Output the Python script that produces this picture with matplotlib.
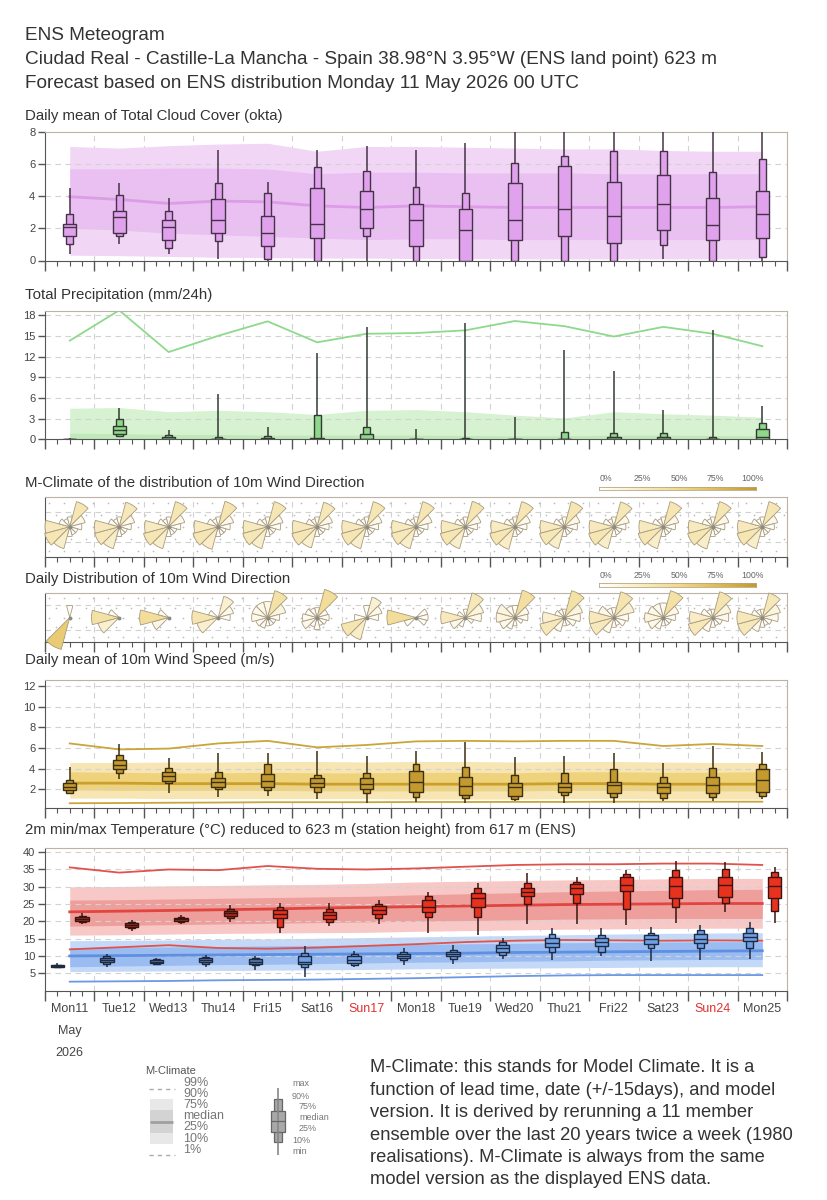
import numpy as np
import matplotlib
matplotlib.use("Agg")
import matplotlib.pyplot as plt
import matplotlib.transforms as mtransforms
from matplotlib.patches import Wedge
from matplotlib.colors import LinearSegmentedColormap

plt.rcParams['font.family'] = ['Liberation Sans', 'DejaVu Sans']

# ---- data ----
day_labels = ['Mon11', 'Tue12', 'Wed13', 'Thu14', 'Fri15', 'Sat16', 'Sun17', 'Mon18',
              'Tue19', 'Wed20', 'Thu21', 'Fri22', 'Sat23', 'Sun24', 'Mon25']

# cloud cover (okta)
cloud_min = [0.4, 1.0, 0.4, 0.1, 0.0, 0.0, 0.0, 0.0, 0.0, 0.0, 0.0, 0.0, 0.1, 0.0, 0.0]
cloud_p10 = [1.0, 1.5, 0.8, 1.2, 0.1, 0.0, 1.5, 0.0, 0.0, 0.0, 0.0, 0.0, 0.95, 0.0, 0.2]
cloud_p25 = [1.5, 1.7, 1.3, 1.7, 0.9, 1.4, 2.0, 0.9, 0.0, 1.3, 1.5, 1.1, 1.9, 1.3, 1.4]
cloud_med = [2.1, 2.7, 2.1, 2.5, 1.7, 2.3, 3.2, 2.5, 1.9, 2.5, 3.2, 2.8, 3.5, 2.2, 2.9]
cloud_p75 = [2.3, 3.1, 2.5, 3.8, 2.8, 4.5, 4.3, 3.5, 3.2, 4.8, 5.9, 4.9, 5.3, 3.9, 4.3]
cloud_p90 = [2.9, 4.1, 3.1, 4.8, 4.2, 5.8, 5.6, 4.6, 4.2, 6.1, 6.5, 6.8, 6.8, 5.5, 6.3]
cloud_max = [4.5, 4.8, 3.9, 6.9, 4.9, 6.9, 7.1, 6.9, 7.3, 8.0, 8.0, 8.0, 8.0, 8.0, 8.0]
cloud_c10 = [0.33, 0.3, 0.25, 0.2, 0.18, 0.15, 0.15, 0.12, 0.12, 0.1, 0.1, 0.1, 0.1, 0.1, 0.1]
cloud_c25 = [2.0, 1.9, 1.7, 1.6, 1.5, 1.4, 1.3, 1.35, 1.35, 1.3, 1.3, 1.3, 1.3, 1.3, 1.3]
cloud_c50 = [3.97, 3.8, 3.55, 3.7, 3.65, 3.4, 3.3, 3.4, 3.35, 3.3, 3.3, 3.3, 3.3, 3.3, 3.35]
cloud_c75 = [5.7, 5.7, 5.75, 5.75, 5.7, 5.4, 5.5, 5.5, 5.45, 5.45, 5.45, 5.4, 5.4, 5.4, 5.4]
cloud_c90 = [7.1, 7.0, 7.15, 7.25, 7.3, 6.8, 7.1, 7.1, 7.05, 7.0, 6.95, 6.95, 6.85, 6.8, 6.8]

# precipitation (mm/24h)
precip_min = [0, 0.4, 0, 0, 0, 0, 0, 0, 0, 0, 0, 0, 0, 0, 0]
precip_p10 = [0, 0.45, 0, 0, 0, 0, 0, 0, 0, 0, 0, 0, 0, 0, 0]
precip_p25 = [0, 0.75, 0, 0, 0, 0, 0, 0, 0, 0, 0, 0, 0, 0, 0.1]
precip_med = [0, 1.3, 0.1, 0, 0.05, 0.05, 0.1, 0, 0, 0, 0, 0.05, 0.05, 0, 0.3]
precip_p75 = [0, 1.9, 0.3, 0.1, 0.2, 0.25, 0.7, 0, 0.05, 0, 0.1, 0.35, 0.3, 0.1, 1.55]
precip_p90 = [0.05, 3.0, 0.65, 0.3, 0.55, 3.5, 1.8, 0, 0.2, 0, 1.05, 0.9, 0.9, 0.3, 2.4]
precip_max = [0.2, 4.5, 1.3, 6.6, 1.8, 12.5, 16.3, 1.55, 16.8, 3.3, 12.9, 9.9, 4.3, 15.9, 4.9]
precip_c75 = [0.9, 0.8, 0.7, 0.7, 0.6, 0.6, 0.6, 0.6, 0.55, 0.5, 0.5, 0.6, 0.6, 0.55, 0.5]
precip_c90 = [4.5, 4.6, 4.0, 4.2, 4.0, 3.6, 4.2, 4.3, 4.0, 3.5, 3.1, 4.0, 3.7, 3.5, 3.2]
precip_c99 = [14.3, 18.7, 12.65, 15.0, 17.1, 14.06, 15.3, 15.4, 15.8, 17.15, 16.4, 14.9, 16.3, 15.3, 13.5]

# wind direction frequencies, sectors N, 30, 60, ... 330 deg
mclim_rose = [
    [0.03, 0.34, 0.10, 0.05, 0.02, 0.02, 0.03, 0.24, 0.34, 0.30, 0.04, 0.02],
    [0.03, 0.32, 0.10, 0.05, 0.02, 0.02, 0.03, 0.24, 0.32, 0.30, 0.04, 0.02],
    [0.03, 0.34, 0.11, 0.05, 0.02, 0.02, 0.03, 0.24, 0.34, 0.28, 0.04, 0.02],
    [0.03, 0.35, 0.10, 0.05, 0.02, 0.02, 0.03, 0.26, 0.34, 0.28, 0.04, 0.02],
    [0.03, 0.34, 0.10, 0.06, 0.02, 0.02, 0.03, 0.24, 0.33, 0.29, 0.04, 0.02],
    [0.03, 0.32, 0.10, 0.05, 0.02, 0.02, 0.03, 0.22, 0.34, 0.30, 0.04, 0.02],
    [0.03, 0.34, 0.10, 0.05, 0.02, 0.02, 0.03, 0.24, 0.34, 0.30, 0.04, 0.02],
    [0.03, 0.34, 0.11, 0.05, 0.02, 0.02, 0.03, 0.24, 0.32, 0.29, 0.04, 0.02],
    [0.03, 0.35, 0.10, 0.05, 0.02, 0.02, 0.03, 0.24, 0.34, 0.29, 0.04, 0.02],
    [0.03, 0.34, 0.10, 0.05, 0.02, 0.02, 0.03, 0.26, 0.34, 0.28, 0.04, 0.02],
    [0.03, 0.34, 0.10, 0.06, 0.02, 0.02, 0.03, 0.24, 0.33, 0.29, 0.04, 0.02],
    [0.03, 0.33, 0.10, 0.05, 0.02, 0.02, 0.03, 0.24, 0.34, 0.30, 0.04, 0.02],
    [0.03, 0.34, 0.10, 0.05, 0.02, 0.02, 0.03, 0.24, 0.34, 0.29, 0.04, 0.02],
    [0.03, 0.34, 0.11, 0.05, 0.02, 0.02, 0.03, 0.25, 0.34, 0.29, 0.04, 0.02],
    [0.03, 0.34, 0.10, 0.05, 0.02, 0.02, 0.03, 0.24, 0.34, 0.30, 0.04, 0.02],
]
daily_rose = [
    [0.05, 0.00, 0.00, 0.00, 0.00, 0.00, 0.00, 0.62, 0.00, 0.00, 0.00, 0.00],
    [0.00, 0.00, 0.00, 0.00, 0.00, 0.00, 0.00, 0.00, 0.22, 0.40, 0.04, 0.00],
    [0.00, 0.00, 0.00, 0.00, 0.00, 0.00, 0.00, 0.00, 0.12, 0.45, 0.04, 0.00],
    [0.00, 0.22, 0.10, 0.05, 0.00, 0.00, 0.00, 0.00, 0.22, 0.35, 0.03, 0.00],
    [0.10, 0.40, 0.15, 0.05, 0.02, 0.02, 0.02, 0.04, 0.05, 0.10, 0.10, 0.10],
    [0.03, 0.45, 0.04, 0.05, 0.03, 0.02, 0.05, 0.03, 0.10, 0.08, 0.05, 0.03],
    [0.05, 0.20, 0.10, 0.05, 0.00, 0.00, 0.00, 0.25, 0.35, 0.05, 0.00, 0.00],
    [0.00, 0.00, 0.05, 0.05, 0.04, 0.00, 0.00, 0.00, 0.05, 0.45, 0.00, 0.00],
    [0.02, 0.32, 0.15, 0.10, 0.02, 0.00, 0.00, 0.03, 0.10, 0.30, 0.02, 0.00],
    [0.05, 0.42, 0.08, 0.06, 0.02, 0.00, 0.02, 0.05, 0.10, 0.15, 0.15, 0.05],
    [0.02, 0.40, 0.15, 0.10, 0.05, 0.02, 0.02, 0.08, 0.32, 0.22, 0.03, 0.02],
    [0.03, 0.36, 0.20, 0.08, 0.05, 0.02, 0.03, 0.10, 0.30, 0.30, 0.10, 0.03],
    [0.08, 0.40, 0.10, 0.05, 0.02, 0.02, 0.02, 0.05, 0.10, 0.15, 0.10, 0.08],
    [0.02, 0.36, 0.15, 0.10, 0.03, 0.02, 0.03, 0.08, 0.32, 0.26, 0.05, 0.02],
    [0.02, 0.32, 0.15, 0.10, 0.03, 0.02, 0.03, 0.08, 0.32, 0.32, 0.04, 0.02],
]

# wind speed (m/s)
wind_min = [1.6, 2.97, 1.6, 1.3, 1.35, 1.03, 0.7, 0.8, 0.7, 0.9, 0.65, 0.65, 0.9, 0.9, 1.03]
wind_p10 = [1.67, 3.6, 2.6, 2.0, 1.93, 1.77, 1.67, 1.29, 1.13, 1.03, 1.45, 1.29, 1.2, 1.29, 1.35]
wind_p25 = [1.93, 3.94, 2.84, 2.25, 2.25, 2.2, 2.0, 1.77, 1.45, 1.35, 1.77, 1.6, 1.67, 1.67, 1.77]
wind_med = [2.25, 4.4, 3.29, 2.68, 2.84, 2.58, 2.5, 2.74, 2.32, 2.25, 2.25, 2.42, 2.25, 2.42, 2.9]
wind_p75 = [2.58, 4.84, 3.7, 3.06, 3.48, 3.06, 3.06, 3.77, 3.16, 2.65, 2.65, 2.74, 2.65, 3.16, 3.94]
wind_p90 = [2.9, 5.3, 4.03, 3.68, 4.45, 3.38, 3.6, 4.5, 4.13, 3.38, 3.55, 3.94, 3.22, 4.03, 4.45]
wind_max = [4.13, 6.4, 5.0, 5.55, 5.48, 5.74, 5.22, 5.74, 6.6, 5.16, 5.22, 5.48, 4.58, 6.19, 5.64]
wind_c1 = [0.65, 0.67, 0.7, 0.72, 0.75, 0.75, 0.75, 0.77, 0.77, 0.78, 0.78, 0.8, 0.8, 0.8, 0.8]
wind_c10 = [1.15, 1.15, 1.1, 1.1, 1.1, 1.1, 1.1, 1.05, 1.05, 1.05, 1.1, 1.1, 1.05, 1.05, 1.05]
wind_c25 = [1.95, 1.9, 1.9, 1.9, 1.9, 1.85, 1.85, 1.85, 1.85, 1.85, 1.9, 1.9, 1.85, 1.85, 1.85]
wind_c50 = [2.6, 2.6, 2.55, 2.55, 2.55, 2.5, 2.5, 2.5, 2.5, 2.5, 2.55, 2.55, 2.5, 2.5, 2.5]
wind_c75 = [3.7, 3.65, 3.6, 3.6, 3.65, 3.6, 3.6, 3.65, 3.65, 3.6, 3.7, 3.7, 3.65, 3.65, 3.7]
wind_c90 = [4.6, 4.6, 4.65, 4.65, 4.7, 4.7, 4.65, 4.7, 4.7, 4.65, 4.7, 4.7, 4.65, 4.6, 4.6]
wind_c99 = [6.45, 5.87, 5.95, 6.45, 6.7, 6.07, 6.3, 6.65, 6.7, 6.65, 6.7, 6.7, 6.2, 6.4, 6.2]

# 2m temperature max (degC)
tmax_min = [19.2, 17.3, 19.2, 19.9, 16.7, 18.6, 19.2, 16.7, 16.0, 19.2, 19.2, 18.9, 19.6, 22.7, 19.4]
tmax_p10 = [19.8, 18.0, 19.9, 20.8, 18.4, 19.9, 20.8, 21.1, 21.3, 24.9, 25.3, 23.4, 24.0, 25.3, 23.0]
tmax_p25 = [20.1, 18.4, 20.2, 21.5, 21.0, 20.6, 22.1, 22.7, 24.0, 27.3, 27.8, 28.8, 26.6, 27.0, 26.6]
tmax_med = [20.6, 18.9, 20.6, 22.3, 22.1, 21.8, 23.2, 24.0, 26.6, 28.5, 29.5, 30.4, 30.1, 30.4, 30.1]
tmax_p75 = [21.2, 19.4, 21.0, 22.9, 23.2, 22.7, 24.4, 26.1, 28.0, 29.5, 30.7, 32.6, 32.8, 32.8, 32.6]
tmax_p90 = [21.5, 19.7, 21.3, 23.4, 24.0, 23.4, 25.1, 27.3, 29.5, 31.1, 31.4, 33.6, 34.7, 34.9, 34.2]
tmax_max = [22.3, 20.3, 21.8, 24.7, 25.3, 25.3, 26.1, 28.5, 30.9, 34.0, 32.6, 34.7, 37.4, 37.1, 35.7]
tmax_c1 = [11.9, 12.5, 13.1, 12.3, 12.1, 12.4, 12.9, 13.4, 14.0, 14.4, 14.6, 14.5, 14.4, 14.5, 14.4]
tmax_c10 = [16.0, 16.1, 16.3, 16.5, 16.6, 16.7, 16.8, 17.1, 17.3, 17.5, 17.7, 17.8, 17.9, 18.0, 18.0]
tmax_c25 = [18.6, 18.8, 19.0, 19.2, 19.4, 19.6, 19.8, 20.0, 20.2, 20.4, 20.6, 20.7, 20.8, 20.8, 20.8]
tmax_c50 = [22.7, 22.9, 23.1, 23.3, 23.5, 23.8, 24.0, 24.2, 24.4, 24.6, 24.8, 24.9, 25.0, 25.1, 25.1]
tmax_c75 = [26.1, 26.2, 26.4, 26.6, 26.8, 27.0, 27.2, 27.6, 27.9, 28.2, 28.5, 28.7, 28.9, 29.1, 29.2]
tmax_c90 = [29.9, 30.0, 30.2, 30.3, 30.5, 30.6, 30.9, 31.3, 31.5, 31.7, 31.9, 32.0, 32.2, 32.3, 32.3]
tmax_c99 = [35.5, 34.0, 34.9, 34.7, 35.9, 35.1, 34.9, 35.2, 35.7, 36.2, 36.4, 36.4, 36.6, 36.6, 36.2]

# 2m temperature min (degC)
tmin_min = [6.6, 6.9, 7.4, 6.9, 6.1, 4.0, 6.9, 7.4, 7.7, 9.2, 8.8, 9.9, 8.5, 8.7, 9.2]
tmin_p10 = [6.7, 7.7, 7.7, 7.7, 7.4, 6.9, 7.4, 8.8, 9.2, 10.3, 11.2, 11.2, 12.2, 12.4, 12.2]
tmin_p25 = [6.9, 8.2, 7.9, 8.2, 7.8, 7.7, 7.9, 9.4, 9.9, 11.2, 12.7, 12.9, 13.4, 13.6, 14.4]
tmin_med = [7.1, 8.8, 8.3, 8.7, 8.3, 8.3, 8.8, 10.0, 10.6, 12.2, 13.8, 14.1, 14.8, 14.8, 15.6]
tmin_p75 = [7.3, 9.5, 8.8, 9.3, 9.0, 9.9, 9.9, 10.7, 11.2, 13.2, 15.1, 15.3, 16.0, 16.3, 16.7]
tmin_p90 = [7.5, 10.0, 9.0, 9.6, 9.3, 10.9, 10.6, 11.2, 11.8, 14.1, 16.3, 16.0, 16.7, 17.5, 18.0]
tmin_max = [8.1, 10.6, 9.3, 10.3, 9.9, 12.9, 11.5, 12.2, 13.2, 15.1, 18.0, 18.0, 18.3, 18.9, 19.9]
tmin_c1 = [2.6, 2.7, 2.8, 3.0, 3.1, 3.2, 3.4, 3.6, 3.9, 4.2, 4.4, 4.5, 4.5, 4.5, 4.5]
tmin_c10 = [5.5, 5.6, 5.7, 5.8, 5.9, 6.0, 6.1, 6.3, 6.4, 6.5, 6.6, 6.7, 6.8, 6.9, 6.9]
tmin_c25 = [6.9, 7.1, 7.3, 7.5, 7.6, 7.8, 8.0, 8.2, 8.3, 8.5, 8.6, 8.8, 8.9, 9.0, 9.0]
tmin_c50 = [10.0, 10.1, 10.2, 10.3, 10.4, 10.5, 10.6, 10.7, 10.8, 11.0, 11.1, 11.2, 11.3, 11.4, 11.5]
tmin_c75 = [12.4, 12.5, 12.6, 12.7, 12.9, 13.0, 13.2, 13.3, 13.5, 13.6, 13.8, 13.9, 14.0, 14.1, 14.1]
tmin_c90 = [14.4, 14.5, 14.6, 14.8, 14.9, 15.1, 15.3, 15.5, 15.7, 15.9, 16.1, 16.3, 16.5, 16.6, 16.7]

# ---- figure ----
W, H = 828, 1200
fig = plt.figure(figsize=(W / 100, H / 100), dpi=100)
GRID = dict(color='#d2d2d2', lw=0.8, ls=(0, (5, 4)))
TXT = '#333333'


def panel(left, top, right, bottom):
    return fig.add_axes([left / W, 1 - bottom / H, (right - left) / W, (bottom - top) / H])


def base_axes(ax, ylim, yticks=None):
    ax.set_xlim(0, 15)
    ax.set_ylim(*ylim)
    ax.set_facecolor('white')
    for s in ['top', 'right']:
        ax.spines[s].set_color('#bcb3a6')
    for s in ['left', 'bottom']:
        ax.spines[s].set_color('#555555')
    ax.set_xticks(np.arange(16))
    ax.set_xticks(np.arange(0, 15.01, 0.25), minor=True)
    ax.tick_params(axis='x', which='major', length=7, width=1, color='#555555', labelbottom=False)
    ax.tick_params(axis='x', which='minor', length=3.5, width=0.8, color='#555555')
    for d in range(1, 15):
        ax.axvline(d, zorder=0.5, **GRID)
    if yticks is None:
        ax.set_yticks([])
    else:
        ax.set_yticks(yticks)
        ax.tick_params(axis='y', length=5, width=1, color='#555555', labelsize=8,
                       labelcolor='#444444', pad=2)
        for y in yticks:
            if ylim[0] < y < ylim[1] - 0.05:
                ax.axhline(y, zorder=1.5, **GRID)


def climate(ax, x, c10, c25, c50, c75, c90, light, dark, line):
    ax.fill_between(x, c10, c90, color=light, lw=0, zorder=1)
    ax.fill_between(x, c25, c75, color=dark, lw=0, zorder=1.1)
    ax.plot(x, c50, color=line, lw=2, zorder=1.6)


def boxes(ax, x, mn, p10, p25, med, p75, p90, mx, fc, ec='#3a3030'):
    ax.vlines(x, mn, mx, color=ec, lw=1.1, zorder=3)
    ax.bar(x, np.subtract(p90, p10), 0.14, bottom=p10, color=fc, edgecolor=ec, lw=1.0, zorder=4)
    ax.bar(x, np.subtract(p75, p25), 0.27, bottom=p25, color=fc, edgecolor=ec, lw=1.0, zorder=5)
    ax.hlines(med, np.array(x) - 0.135, np.array(x) + 0.135, color=ec, lw=1.0, zorder=6)


def title(y, s):
    fig.text(25 / W, 1 - y / H, s, fontsize=10.8, color=TXT, va='center')


days = np.arange(15)
xmid = days + 0.5

# header
fig.text(25 / W, 1 - 36 / H, 'ENS Meteogram', fontsize=13.7, color=TXT, va='center')
fig.text(25 / W, 1 - 60 / H,
         'Ciudad Real - Castille-La Mancha - Spain 38.98\u00b0N 3.95\u00b0W (ENS land point) 623 m',
         fontsize=13.7, color=TXT, va='center')
fig.text(25 / W, 1 - 84 / H, 'Forecast based on ENS distribution Monday 11 May 2026 00 UTC',
         fontsize=13.7, color=TXT, va='center')

# cloud cover
ax1 = panel(45, 132, 787, 260.5)
base_axes(ax1, (0, 8), [0, 2, 4, 6, 8])
climate(ax1, xmid, cloud_c10, cloud_c25, cloud_c50, cloud_c75, cloud_c90,
        '#f2d6f6', '#e9c0f1', '#dc9ce8')
boxes(ax1, xmid, cloud_min, cloud_p10, cloud_p25, cloud_med, cloud_p75, cloud_p90, cloud_max,
      '#e0a2ed', '#463246')
title(116, 'Daily mean of Total Cloud Cover (okta)')

# precipitation
ax2 = panel(45, 311, 787, 439.3)
base_axes(ax2, (0, 18.6), [0, 3, 6, 9, 12, 15, 18])
ax2.fill_between(xmid, 0, precip_c90, color='#d6f2d1', lw=0, zorder=1)
ax2.fill_between(xmid, 0, precip_c75, color='#bfe9b8', lw=0, zorder=1.1)
ax2.plot(xmid, precip_c99, color='#8ed98c', lw=1.3, zorder=1.6)
boxes(ax2, xmid, precip_min, precip_p10, precip_p25, precip_med, precip_p75, precip_p90,
      precip_max, '#8fd88b', '#333a33')
title(295, 'Total Precipitation (mm/24h)')

# wind direction roses
rose_cmap = LinearSegmentedColormap.from_list(
    'rose', ['#ffffff', '#f9edc8', '#f1d98f', '#dfbb55', '#c49a2c'])
px_per_day = 742 / 15
rose_R = 40 / px_per_day


def rose_panel(top, bottom, rows, cbar_top):
    ax = panel(45, top, 787, bottom)
    half = (bottom - top) / px_per_day / 2
    base_axes(ax, (-half, half))
    for yy in (-half * 0.5, half * 0.5):
        ax.axhline(yy, zorder=0.5, **GRID)
    # stippled background
    for j in range(5):
        yy = -half + (j + 0.5) * 2 * half / 5
        xs = np.arange(0.08 + 0.15 * (j % 2), 15, 0.3)
        ax.scatter(xs, np.full(len(xs), yy), s=1.5, color='#bdbdbd', lw=0, zorder=0.6)
    for d, row in enumerate(rows):
        for k, f in enumerate(row):
            if f <= 0:
                continue
            r = rose_R * f ** 0.4
            ang = 90 - 30 * k
            ax.add_patch(Wedge((d + 0.5, 0), r, ang - 15, ang + 15, facecolor=rose_cmap(f),
                               edgecolor='#a89c80', lw=0.6, zorder=3, clip_on=False))
        ax.plot(d + 0.5, 0, marker='o', ms=1.8, color='#8a8a8a', zorder=4)
    # colour scale
    cax = panel(599, cbar_top, 756, cbar_top + 4)
    cax.imshow(np.linspace(0, 1, 256)[None, :], cmap=rose_cmap, aspect='auto', extent=[0, 1, 0, 1])
    cax.set_xticks([])
    cax.set_yticks([])
    for s in cax.spines.values():
        s.set_color('#b8a880')
        s.set_linewidth(0.6)
    for i, lab in enumerate(['0%', '25%', '50%', '75%', '100%']):
        fig.text((606 + i * 36.5) / W, 1 - (cbar_top - 8) / H, lab, fontsize=6.3, color='#666666',
                 ha='center', va='center')
    return ax


rose_panel(497, 556.5, mclim_rose, 486.5)
title(483, 'M-Climate of the distribution of 10m Wind Direction')
rose_panel(593, 642, daily_rose, 583)
title(579, 'Daily Distribution of 10m Wind Direction')

# wind speed
ax5 = panel(45, 679.5, 787, 808.3)
base_axes(ax5, (0.16, 12.65), [2, 4, 6, 8, 10, 12])
climate(ax5, xmid, wind_c10, wind_c25, wind_c50, wind_c75, wind_c90,
        '#f7e6b3', '#efd37c', '#c9a02e')
ax5.plot(xmid, wind_c99, color='#c9a53a', lw=1.3, zorder=1.6)
ax5.plot(xmid, wind_c1, color='#c9a53a', lw=1.3, zorder=1.6)
boxes(ax5, xmid, wind_min, wind_p10, wind_p25, wind_med, wind_p75, wind_p90, wind_max,
      '#c49a30', '#3c2f10')
title(660, 'Daily mean of 10m Wind Speed (m/s)')

# temperature
ax6 = panel(45, 848.3, 787, 990.7)
base_axes(ax6, (0, 41), [5, 10, 15, 20, 25, 30, 35, 40])
climate(ax6, xmid, tmax_c10, tmax_c25, tmax_c50, tmax_c75, tmax_c90,
        '#f7c8c6', '#ee9f9c', '#e0453f')
climate(ax6, xmid, tmin_c10, tmin_c25, tmin_c50, tmin_c75, tmin_c90,
        '#c4d9f8', '#9bbcf1', '#5e8fe0')
ax6.plot(xmid, tmax_c99, color='#e0524c', lw=1.3, zorder=1.7)
ax6.plot(xmid, tmax_c1, color='#e0524c', lw=1.3, zorder=1.7)
ax6.plot(xmid, tmin_c1, color='#6b98e4', lw=1.3, zorder=1.7)
max_fill = ['#a8301e' if d < 4 else '#e8321e' for d in days]
min_fill = ['#333333'] + ['#5a7db0' if d < 5 else '#6fa0e6' for d in days[1:]]
boxes(ax6, days + 0.75, tmax_min, tmax_p10, tmax_p25, tmax_med, tmax_p75, tmax_p90, tmax_max,
      max_fill, '#3a1410')
boxes(ax6, days + 0.25, tmin_min, tmin_p10, tmin_p25, tmin_med, tmin_p75, tmin_p90, tmin_max,
      min_fill, '#1e2a40')
title(830, '2m min/max Temperature (\u00b0C) reduced to 623 m (station height) from 617 m (ENS)')

trans = mtransforms.blended_transform_factory(ax6.transData, ax6.transAxes)
for d, lab in enumerate(day_labels):
    col = '#e03030' if lab.startswith('Sun') else '#444444'
    ax6.text(d + 0.5, -0.125, lab, transform=trans, ha='center', va='center', fontsize=9, color=col)
ax6.text(0.5, -0.285, 'May', transform=trans, ha='center', va='center', fontsize=9, color='#444444')
ax6.text(0.5, -0.44, '2026', transform=trans, ha='center', va='center', fontsize=9, color='#444444')

# legend glyphs
lax = panel(130, 1060, 350, 1165)
lax.set_xlim(130, 350)
lax.set_ylim(1165, 1060)
lax.axis('off')
lax.hlines([1089, 1155], 149, 175, colors='#aaaaaa', linestyles=(0, (3, 3)), lw=1)
lax.fill_between([150, 173], 1099, 1144, color='#e8e8e8', lw=0)
lax.fill_between([150, 173], 1110, 1133, color='#d3d3d3', lw=0)
lax.hlines(1122, 150, 173, color='#a0a0a0', lw=2)
lax.text(145, 1071, 'M-Climate', fontsize=8, color='#555555', va='center')
for lab, yy in zip(['99%', '90%', '75%', 'median', '25%', '10%', '1%'],
                   [1083, 1094, 1105, 1116, 1127, 1139, 1150]):
    lax.text(183, yy, lab, fontsize=9, color='#777777', va='center')
lax.vlines(278, 1088, 1155, color='#888888', lw=1.2)
lax.bar(278, 43, 8, bottom=1099, color='#a8a8a8', edgecolor='#666666', lw=0.9)
lax.bar(278, 21, 14, bottom=1111, color='#a8a8a8', edgecolor='#666666', lw=0.9)
lax.hlines(1121.5, 271, 285, color='#666666', lw=0.9)
for lab, xx, yy in [('max', 292, 1084), ('90%', 292, 1097), ('75%', 299, 1107),
                    ('median', 299, 1118), ('25%', 299, 1129), ('10%', 292, 1141),
                    ('min', 292, 1152)]:
    lax.text(xx, yy, lab, fontsize=6.5, color='#777777', va='center')

note = ['M-Climate: this stands for Model Climate. It is a',
        'function of lead time, date (+/-15days), and model',
        'version. It is derived by rerunning a 11 member',
        'ensemble over the last 20 years twice a week (1980',
        'realisations). M-Climate is always from the same',
        'model version as the displayed ENS data.']
for i, line in enumerate(note):
    fig.text(370 / W, 1 - (1068 + i * 22.4) / H, line, fontsize=13.2, color=TXT, va='center')

fig.savefig('out.png', dpi=100, facecolor='white')
